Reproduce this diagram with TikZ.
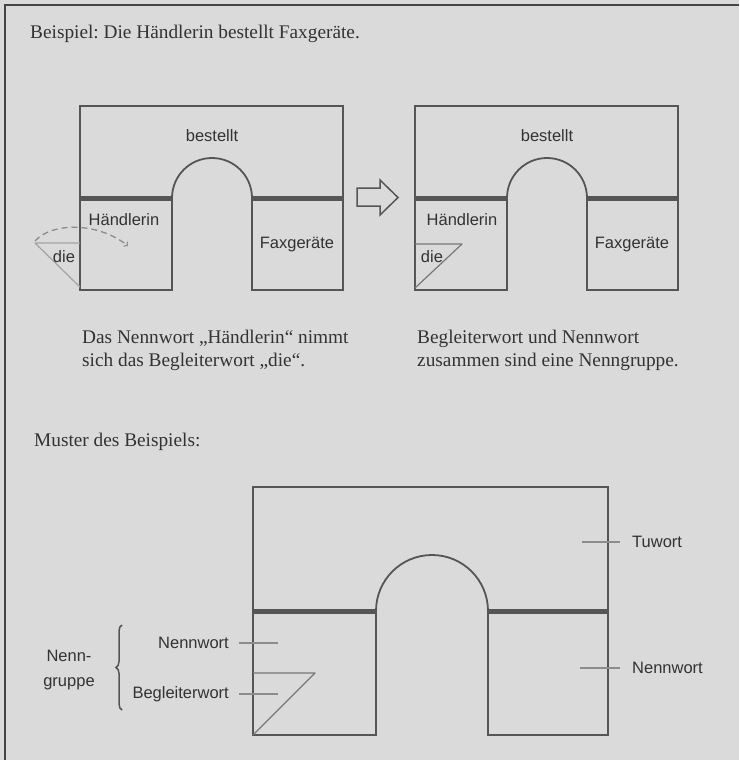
\documentclass[tikz,border=0pt]{standalone}
\usepackage{fontspec}
\setmainfont{Liberation Serif}
\newfontfamily\wortfont{Liberation Sans}
\usetikzlibrary{calc, positioning, decorations.pathreplacing}
\frenchspacing

% Bridge: #1 = left, #2 = top, #3 = block width, #4 = arch radius, #5 = right block width, #6 = height
\newcommand{\zeichneBruecke}[6]{
    \pgfmathsetmacro{\breite}{#3+2*#4+#5}
    % Upper block
    \draw[wand] (#1,#2+#6) -- (#1,#2) -- (#1+\breite,#2) -- (#1+\breite,#2+#6);
    \draw[wand] (#1+#3,#2+#6) arc[start angle=180, end angle=360, radius=#4];
    % Bars
    \draw[balken] (#1,#2+#6) -- (#1+#3,#2+#6);
    \draw[balken] (#1+#3+2*#4,#2+#6) -- (#1+\breite,#2+#6);
    % Lower blocks
    \draw[wand] (#1,#2+#6) rectangle (#1+#3,#2+2*#6);
    \draw[wand] (#1+#3+2*#4,#2+#6) rectangle (#1+\breite,#2+2*#6);
}

\begin{document}
\begin{tikzpicture}[x=1pt, y=-1pt,
    wand/.style={draw=lineColour, line width=1.8pt},
    balken/.style={draw=lineColour, line width=5pt},
    satz/.style={font=\fontsize{19.3}{23}\selectfont, text=textColour, inner sep=0pt, anchor=west, align=left},
    wort/.style={font=\wortfont\fontsize{16.5}{19}\selectfont, text=textColour, inner sep=0pt},
    strich/.style={draw=tickColour, line width=1.2pt},
    dreieck/.style={draw=#1, line width=1.2pt, line join=round}]

    \definecolor{bgColour}{HTML}{DADADA}
    \definecolor{lineColour}{HTML}{555555}
    \definecolor{textColour}{HTML}{333333}
    \definecolor{tickColour}{HTML}{8C8C8C}
    \definecolor{frameColour}{HTML}{444444}

    % Background and frame
    \fill[bgColour] (0,0) rectangle (739,760);
    \useasboundingbox (0,0) rectangle (739,760);
    \draw[frameColour, line width=2pt] (5,760) -- (5,5) -- (739,5);

    % Title
    \node[satz] (titel) at (30,34) {Beispiel: Die Händlerin bestellt Faxgeräte.};

    % First bridge
    \zeichneBruecke{80}{106}{92}{40}{91}{92}
    \node[wort] (verbA) at (212,136) {bestellt};
    \node[wort] (nomenA) at (124,220) {Händlerin};
    \node[wort] (objektA) at (297,245) {Faxgeräte};
    \draw[dreieck=tickColour!80] (80,243) -- (35,243) -- (80,287);
    \node[wort] (artikelA) at (64,257) {die};
    \draw[tickColour, line width=1.3pt, dash pattern=on 6pt off 4pt, ->]
        (35,241) .. controls (52,222) and (98,222) .. (128,246);

    % Hollow arrow
    \draw[lineColour, line width=1.5pt, line join=miter]
        (357,188) -- (380,188) -- (380,180) -- (398,197.5) -- (380,215) -- (380,206) -- (357,206) -- cycle;

    % Second bridge
    \zeichneBruecke{415}{106}{92}{40}{91}{92}
    \node[wort] (verbB) at (547,136) {bestellt};
    \node[wort] (nomenB) at (462,220) {Händlerin};
    \node[wort] (objektB) at (632,245) {Faxgeräte};
    \draw[dreieck=lineColour!80] (415,244) -- (462,244) -- (415,288);
    \node[wort] (artikelB) at (432,257) {die};

    % Captions
    \node[satz] (textA) at (82,350) {Das Nennwort „Händlerin“ nimmt\\sich das Begleiterwort „die“.};
    \node[satz] (textB) at (417,350) {Begleiterwort und Nennwort\\zusammen sind eine Nenngruppe.};
    \node[satz] (muster) at (34,442) {Muster des Beispiels:};

    % Pattern bridge
    \zeichneBruecke{253}{487}{123}{56}{120}{124}
    \draw[dreieck=lineColour!80] (253,673) -- (315,673) -- (253,735);

    % Labels of the pattern
    \node[wort, anchor=west] (tuwort) at (632,542) {Tuwort};
    \node[wort, anchor=west] (nennwortR) at (632,668) {Nennwort};
    \node[wort, anchor=east] (nennwortL) at (229,643) {Nennwort};
    \node[wort, anchor=east] (begleiter) at (229,694) {Begleiterwort};
    \node[wort, align=center, font=\wortfont\fontsize{16.5}{25}\selectfont] (gruppe) at (69,670) {Nenn-\\gruppe};

    \draw[strich] ([xshift=-50pt]tuwort.west) -- ([xshift=-12pt]tuwort.west);
    \draw[strich] ([xshift=-52pt]nennwortR.west) -- ([xshift=-12pt]nennwortR.west);
    \draw[strich] ([xshift=10pt]nennwortL.east) -- ([xshift=49pt]nennwortL.east);
    \draw[strich] ([xshift=10pt]begleiter.east) -- ([xshift=49pt]begleiter.east);

    % Brace
    \coordinate (klammerU) at (122,710);
    \coordinate (klammerO) at (122,625);
    \draw[lineColour, line width=1.5pt, decorate, decoration={brace, amplitude=6pt}]
        (klammerU) -- (klammerO);

\end{tikzpicture}
\end{document}
